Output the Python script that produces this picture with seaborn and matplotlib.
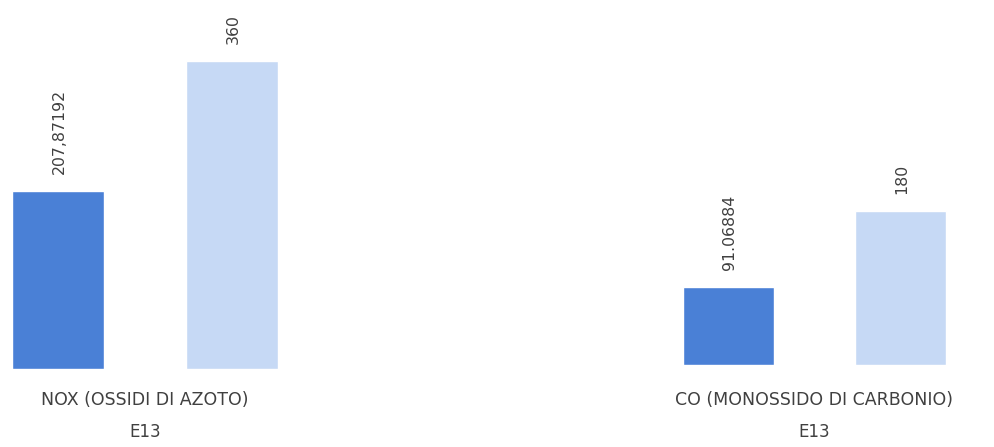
import matplotlib
matplotlib.use("Agg")
import matplotlib.pyplot as plt
import seaborn as sns
import pandas as pd

# ---- data ----
series = ["Misurato", "Limite"]
nox_values = [207.87192, 360]
nox_labels = ["207,87192", "360"]
co_values = [91.06884, 180]
co_labels = ["91.06884", "180"]
panel_titles = ["NOX (OSSIDI DI AZOTO)", "CO (MONOSSIDO DI CARBONIO)"]
group_label = "E13"
colors = ["#4a80d6", "#c6d9f5"]

sns.set_theme(style="white")
plt.rcParams["font.family"] = ["DejaVu Sans"]

W, H = 995, 447
fig = plt.figure(figsize=(W / 100, H / 100), dpi=100)

def px_axes(left, bottom_y, width, height):
    # left/width in px from left, bottom_y = baseline px from top, height in px
    return fig.add_axes([left / W, (H - bottom_y) / H, width / W, height / H])

scale = 0.856  # px per unit
panels = [
    dict(values=nox_values, labels=nox_labels, title=panel_titles[0],
         left=0, width=290, base=369, center=145),
    dict(values=co_values, labels=co_labels, title=panel_titles[1],
         left=671, width=287, base=365, center=814),
]

for p in panels:
    ax = px_axes(p["left"], p["base"], p["width"], p["base"])
    df = pd.DataFrame({"serie": series, "valore": p["values"]})
    sns.barplot(data=df, x="serie", y="valore", hue="serie", palette=colors,
                width=0.525, dodge=False, legend=False, ax=ax, saturation=1)
    ax.set_xlim(-1 / 3, 4 / 3)
    ax.set_ylim(0, p["base"] / scale)
    for i, (v, lab) in enumerate(zip(p["values"], p["labels"])):
        ax.annotate(lab, (i, v), xytext=(1, 12), textcoords="offset points",
                    rotation=90, ha="center", va="bottom", fontsize=11.3,
                    color="#404040")
    for s in ax.spines.values():
        s.set_visible(False)
    ax.set_xticks([])
    ax.set_yticks([])
    ax.set_xlabel("")
    ax.set_ylabel("")
    ax.patch.set_alpha(0)
    fig.text(p["center"] / W, 1 - 400 / H, p["title"], ha="center", va="center",
             fontsize=12.5, color="#404040")
    fig.text(p["center"] / W, 1 - 432 / H, group_label, ha="center", va="center",
             fontsize=12, color="#404040")

fig.savefig("out.png", dpi=100, facecolor="white")
